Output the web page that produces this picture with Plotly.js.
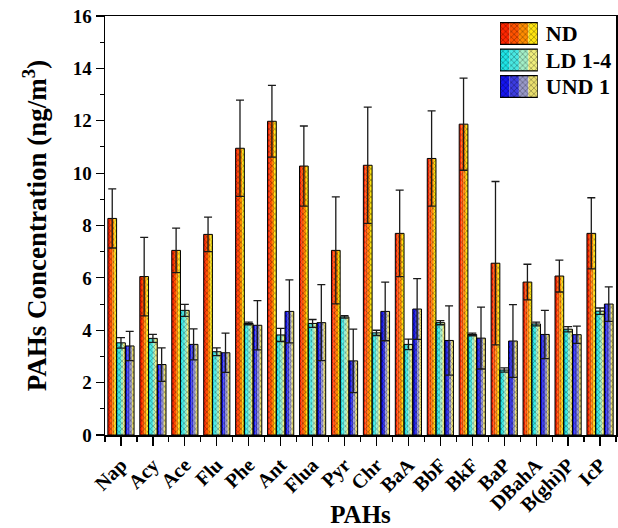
<!DOCTYPE html>
<html>
<head>
<meta charset="utf-8">
<script src="https://cdn.plot.ly/plotly-3.0.1.min.js"></script>
<style>html,body{margin:0;padding:0;background:#fff;}#chart{width:618px;height:528px;}</style>
</head>
<body>
<div id="chart"></div>
<script>
const categories = ['Nap','Acy','Ace','Flu','Phe','Ant','Flua','Pyr','Chr','BaA','BbF','BkF','BaP','DBahA','B(ghi)P','IcP'];
const ndValues  = [8.27,6.05,7.05,7.66,10.95,11.98,10.27,7.05,10.30,7.70,10.56,11.87,6.56,5.84,6.07,7.70];
const ndErrors  = [1.13,1.50,0.85,0.66,1.84,1.37,1.53,2.04,2.22,1.65,1.82,1.76,3.12,0.68,0.61,1.36];
const ldValues  = [3.52,3.69,4.76,3.18,4.26,3.82,4.26,4.51,3.90,3.46,4.29,3.84,2.48,4.24,4.04,4.73];
const ldErrors  = [0.20,0.15,0.23,0.15,0.05,0.25,0.15,0.05,0.10,0.20,0.08,0.05,0.08,0.07,0.10,0.12];
const undValues = [3.40,2.69,3.46,3.14,4.19,4.72,4.29,2.83,4.72,4.81,3.61,3.70,3.59,3.84,3.83,5.00];
const undErrors = [0.56,0.64,0.59,0.75,0.94,1.20,1.45,1.21,1.12,1.16,1.32,1.18,1.39,0.92,0.33,0.66];

const seriesNames = ['ND','LD 1-4','UND 1'];
const ndStrips  = ['#FF2600','#FF5200','#FF8C00','#FFE410'];
const ldStrips  = ['#1EE4E6','#48E8E2','#A2EEC6','#F0EE7C'];
const undStrips = ['#1414F0','#3C3CE0','#9898C8','#EADF6E'];

const series = [
  {name: seriesNames[0], y: ndValues,  err: ndErrors,  strips: ndStrips},
  {name: seriesNames[1], y: ldValues,  err: ldErrors,  strips: ldStrips},
  {name: seriesNames[2], y: undValues, err: undErrors, strips: undStrips}
];

const hatch = {shape: 'x', fillmode: 'overlay', fgcolor: '#000000', fgopacity: 0.6, size: 4, solidity: 0.22};
const xIdx = categories.map((c, i) => i);
const groupW = 0.82;
const barW = groupW / series.length;
const traces = [];

// main bars: each bar built from vertical colour strips (gradient look)
series.forEach((s, si) => {
  const off0 = -groupW / 2 + si * barW;
  const nS = s.strips.length;
  const sw = barW / nS;
  s.strips.forEach((col, k) => {
    traces.push({
      type: 'bar', x: xIdx, y: s.y,
      offset: off0 + k * sw, width: sw * 1.03,
      marker: {color: col, line: {width: 0}, pattern: hatch},
      showlegend: false, hoverinfo: 'skip'
    });
  });
});
// outlines + error bars
series.forEach((s, si) => {
  const off0 = -groupW / 2 + si * barW;
  traces.push({
    type: 'bar', x: xIdx, y: s.y, offset: off0, width: barW,
    marker: {color: 'rgba(0,0,0,0)', line: {color: '#000', width: 1}},
    error_y: {type: 'data', array: s.err, visible: true, color: '#1a1a1a', thickness: 1.3, width: 4},
    showlegend: false
  });
});
// legend swatches in an inset axis
series.forEach((s, si) => {
  const nS = s.strips.length;
  s.strips.forEach((col, k) => {
    traces.push({
      type: 'bar', orientation: 'h', xaxis: 'x2', yaxis: 'y2',
      y: [s.name], x: [1 / nS], base: [k / nS], width: 0.82,
      marker: {color: col, line: {width: 0}, pattern: hatch},
      showlegend: false, hoverinfo: 'skip'
    });
  });
  traces.push({
    type: 'bar', orientation: 'h', xaxis: 'x2', yaxis: 'y2',
    y: [s.name], x: [1], base: [0], width: 0.82,
    marker: {color: 'rgba(0,0,0,0)', line: {color: '#000', width: 1.2}},
    showlegend: false, hoverinfo: 'skip'
  });
});

const fontFam = '"Liberation Serif", "Times New Roman", serif';
const layout = {
  width: 618, height: 528,
  margin: {l: 105, r: 2, t: 16, b: 93},
  barmode: 'overlay',
  showlegend: false,
  paper_bgcolor: '#fff', plot_bgcolor: '#fff',
  font: {family: fontFam, color: '#000', size: 20, weight: 'bold'},
  xaxis: {
    range: [-0.5, categories.length - 0.5],
    tickvals: xIdx, ticktext: categories, tickangle: -45,
    ticks: 'outside', ticklen: 9, tickwidth: 1.2, tickcolor: '#000',
    minor: {ticks: 'outside', tick0: -0.5, dtick: 1, ticklen: 5, tickwidth: 1.2, tickcolor: '#000'},
    showline: true, linecolor: '#000', linewidth: 1.5, mirror: true,
    showgrid: false, zeroline: false,
    tickfont: {family: fontFam, size: 20, weight: 'bold'},
    title: {text: 'PAHs', font: {family: fontFam, size: 25, weight: 'bold'}, standoff: 12}
  },
  yaxis: {
    range: [0, 16], dtick: 2,
    ticks: 'outside', ticklen: 8, tickwidth: 1.2, tickcolor: '#000',
    minor: {ticks: 'outside', dtick: 1, ticklen: 4, tickwidth: 1, tickcolor: '#000'},
    showline: true, linecolor: '#000', linewidth: 1.5, mirror: true,
    showgrid: false, zeroline: false,
    tickfont: {family: fontFam, size: 19, weight: 'bold'},
    title: {text: 'PAHs Concentration (ng/m<sup>3</sup>)', font: {family: fontFam, size: 27, weight: 'bold'}, standoff: 18}
  },
  xaxis2: {
    domain: [0.773, 0.847], anchor: 'y2', range: [0, 1],
    showline: false, showgrid: false, zeroline: false, showticklabels: false, ticks: ''
  },
  yaxis2: {
    domain: [0.80, 0.99], anchor: 'x2', type: 'category',
    categoryorder: 'array', categoryarray: seriesNames,
    range: [2.5, -0.5], side: 'right',
    showline: false, showgrid: false, zeroline: false, ticks: '',
    ticklabelstandoff: 7,
    tickfont: {family: fontFam, size: 22, weight: 'bold'}
  }
};

Plotly.newPlot('chart', traces, layout, {displayModeBar: false, staticPlot: true});
</script>
</body>
</html>
